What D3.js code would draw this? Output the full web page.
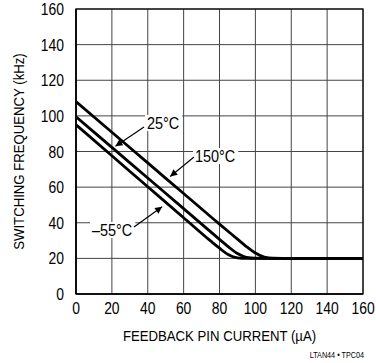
<!DOCTYPE html>
<html><head><meta charset="utf-8">
<script src="https://cdn.jsdelivr.net/npm/d3@7"></script>
<style>body{margin:0;background:#fff}svg{display:block}</style>
</head><body><svg id="c" width="376" height="363"></svg>
<script>
const xTicks = [0,20,40,60,80,100,120,140,160];
const yTicks = [0,20,40,60,80,100,120,140,160];
const seriesNames = ["150°C","25°C","–55°C"];
const curr150 = [0,20,40,60,80,90,95,100,105,110,120,160];
const freq150 = [108,90.8,73.6,56.4,39.2,30.8,26.6,23,20.7,20.1,20,20];
const curr25 = [0,20,40,60,80,85,90,95,100,110,160];
const freq25 = [99.5,82.3,65.1,47.9,30.7,26.5,22.7,20.6,20.1,20,20];
const currM55 = [0,20,40,60,75,80,85,90,95,160];
const freqM55 = [95,77.6,60.2,42.8,29.8,25.7,22,20.3,20,20];
const labels = [
  {text:"25°C", lx:147, ly:123, ax:[144,127], tip:[22,83]},
  {text:"150°C", lx:195, ly:156, ax:[194,157], tip:[52.5,66]},
  {text:"–55°C", lx:92, ly:230, ax:[134,227], tip:[48,49]}
];

const svg = d3.select("#c");
const L=76,R=363,T=9,B=294;
const x = d3.scaleLinear().domain([0,160]).range([L,R]);
const y = d3.scaleLinear().domain([0,160]).range([B,T]);
const font = "'Liberation Sans Narrow','Arial Narrow','Liberation Sans',sans-serif";

// grid
const g = svg.append("g");
g.selectAll("line.vx").data(xTicks).join("line")
  .attr("x1",d=>x(d)).attr("x2",d=>x(d)).attr("y1",T).attr("y2",B)
  .attr("stroke","#444").attr("stroke-width",1);
g.selectAll("line.hy").data(yTicks).join("line")
  .attr("y1",d=>y(d)).attr("y2",d=>y(d)).attr("x1",L).attr("x2",R)
  .attr("stroke","#444").attr("stroke-width",1);
svg.append("rect").attr("x",L).attr("y",T).attr("width",R-L).attr("height",B-T)
  .attr("fill","none").attr("stroke","#111").attr("stroke-width",1.3);
svg.append("line").attr("x1",L).attr("x2",L).attr("y1",T).attr("y2",B).attr("stroke","#000").attr("stroke-width",1.6);
svg.append("line").attr("x1",L).attr("x2",R).attr("y1",B).attr("y2",B).attr("stroke","#000").attr("stroke-width",1.6);

// axes labels
svg.append("g").selectAll("text").data(xTicks).join("text")
  .attr("transform",d=>`translate(${x(d)},314) scale(0.82,1)`)
  .attr("text-anchor","middle").attr("font-family",font).attr("font-size",17)
  .text(d=>d);
svg.append("g").selectAll("text").data(yTicks).join("text")
  .attr("transform",d=>`translate(64,${y(d)+6}) scale(0.82,1)`)
  .attr("text-anchor","end").attr("font-family",font).attr("font-size",17)
  .text(d=>d);

svg.append("text").attr("transform",`translate(${(L+R)/2},341) scale(0.85,1)`)
  .attr("text-anchor","middle").attr("font-family",font).attr("font-size",15.5)
  .text("FEEDBACK PIN CURRENT (µA)");
svg.append("text").attr("transform",`translate(24,${(T+B)/2}) rotate(-90) scale(0.85,1)`)
  .attr("text-anchor","middle").attr("font-family",font).attr("font-size",15.5)
  .text("SWITCHING FREQUENCY (kHz)");
svg.append("text").attr("transform","translate(364,358) scale(0.85,1)")
  .attr("text-anchor","end").attr("font-family",font).attr("font-size",8.5)
  .text("LTAN44 • TPC04");

// curves
const series = [
  {name:seriesNames[0], xs:curr150, ys:freq150},
  {name:seriesNames[1], xs:curr25, ys:freq25},
  {name:seriesNames[2], xs:currM55, ys:freqM55}
];
const line = d3.line().x(d=>x(d[0])).y(d=>y(d[1])).curve(d3.curveMonotoneX);
svg.append("g").selectAll("path").data(series).join("path")
  .attr("d",s=>line(s.xs.map((v,i)=>[v,s.ys[i]])))
  .attr("fill","none").attr("stroke","#000").attr("stroke-width",2.8);

// annotations
svg.append("defs").append("marker").attr("id","ah").attr("viewBox","0 0 10 10")
  .attr("refX",10).attr("refY",5).attr("markerWidth",9).attr("markerHeight",7)
  .attr("markerUnits","userSpaceOnUse").attr("orient","auto")
  .append("path").attr("d","M0,0L10,5L0,10Z").attr("fill","#000");
labels.forEach(l=>{
  const grp = svg.append("g");
  const bg = grp.append("rect").attr("fill","#fff");
  const t = grp.append("text").attr("transform",`translate(${l.lx},${l.ly+6}) scale(0.85,1)`)
    .attr("font-family",font).attr("font-size",17).text(l.text);
  const bb = t.node().getBBox();
  bg.attr("x",l.lx-2).attr("y",l.ly-8).attr("width",bb.width*0.85+5).attr("height",16);
  grp.append("line").attr("x1",l.ax[0]).attr("y1",l.ax[1])
    .attr("x2",x(l.tip[0])).attr("y2",y(l.tip[1]))
    .attr("stroke","#000").attr("stroke-width",1.2).attr("marker-end","url(#ah)");
});
</script></body></html>
